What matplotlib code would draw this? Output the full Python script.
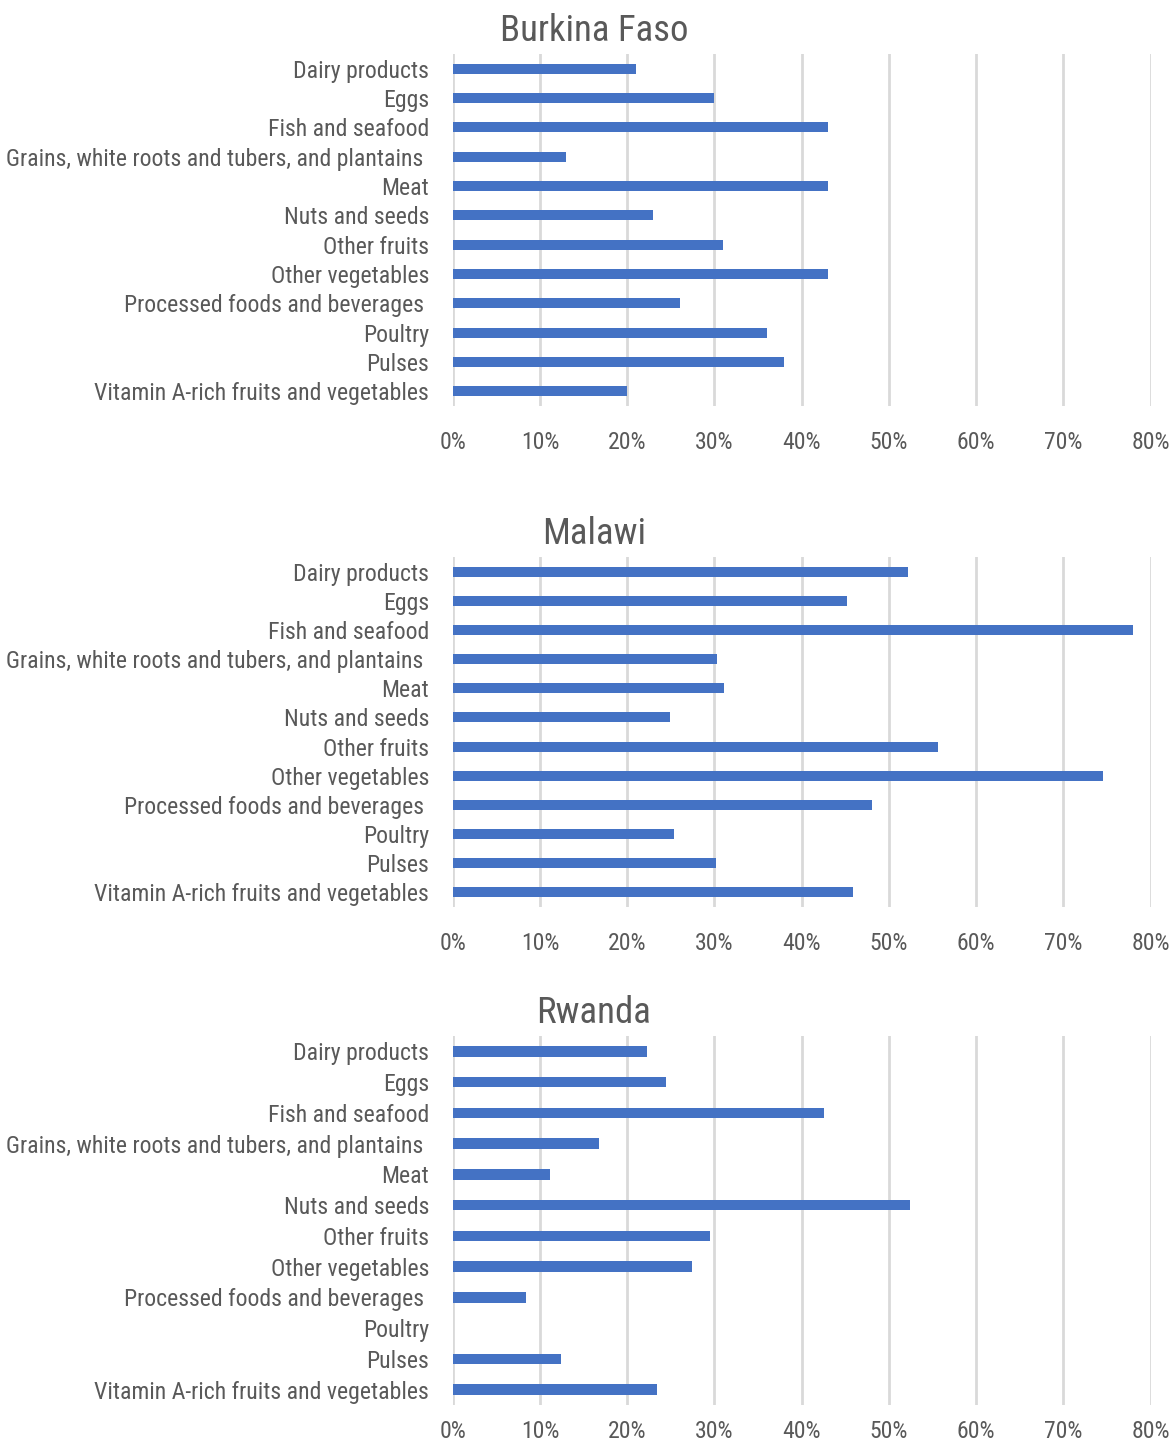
import matplotlib
matplotlib.use("Agg")
import matplotlib.pyplot as plt
from matplotlib import font_manager
from matplotlib.ticker import PercentFormatter

# categories and shares per country
categories = [
    "Dairy products",
    "Eggs",
    "Fish and seafood",
    "Grains, white roots and tubers, and plantains ",
    "Meat",
    "Nuts and seeds",
    "Other fruits",
    "Other vegetables",
    "Processed foods and beverages ",
    "Poultry",
    "Pulses",
    "Vitamin A-rich fruits and vegetables",
]
burkina_faso = [21.0, 30.0, 43.0, 13.0, 43.0, 23.0, 31.0, 43.0, 26.0, 36.0, 38.0, 20.0]
malawi = [52.2, 45.2, 78.0, 30.3, 31.1, 24.9, 55.6, 74.5, 48.1, 25.4, 30.2, 45.9]
rwanda = [22.3, 24.5, 42.6, 16.8, 11.2, 52.4, 29.5, 27.4, 8.4, 0.0, 12.4, 23.4]
countries = ["Burkina Faso", "Malawi", "Rwanda"]
xticks = [0, 10, 20, 30, 40, 50, 60, 70, 80]

installed = {f.name for f in font_manager.fontManager.ttflist}
narrow = [n for n in ["Roboto Condensed", "Liberation Sans Narrow", "Open Sans Condensed"] if n in installed]
font = narrow[0] if narrow else "Roboto"
plt.rcParams["font.family"] = [font, "DejaVu Sans"]
lab_size = 17.1 if narrow else 13

BAR = "#4472c4"
TXT = "#595959"
GRID = "#d9d9d9"

W, H = 1172, 1446
fig = plt.figure(figsize=(W / 100, H / 100), dpi=100)

# (top, bottom, title_y, x tick pad) in pixels for each panel
panels = [(54, 406, 31, 18), (557, 907, 534, 18), (1036, 1405, 1013, 11)]
data = [burkina_faso, malawi, rwanda]
x0, x1 = 452.7, 1150.7

for (top, bot, ty, xpad), vals, name in zip(panels, data, countries):
    ax = fig.add_axes([x0 / W, 1 - bot / H, (x1 - x0) / W, (bot - top) / H])
    ypos = range(len(categories))
    ax.barh(ypos, vals, height=0.34, color=BAR, zorder=3)
    ax.set_ylim(len(categories) - 0.5, -0.5)
    ax.set_xlim(0, 80)
    ax.set_xticks(xticks)
    ax.xaxis.set_major_formatter(PercentFormatter(decimals=0))
    ax.set_yticks(list(ypos))
    ax.set_yticklabels(categories)
    ax.grid(axis="x", color=GRID, linewidth=2, zorder=0)
    for s in ax.spines.values():
        s.set_visible(False)
    ax.tick_params(axis="both", length=0, colors=TXT, labelsize=lab_size)
    ax.tick_params(axis="y", pad=17)
    ax.tick_params(axis="x", pad=xpad)
    fig.text(594 / W, 1 - ty / H, name, ha="center", va="center",
             fontsize=26.5, color=TXT)

fig.savefig("out.png", dpi=100)
